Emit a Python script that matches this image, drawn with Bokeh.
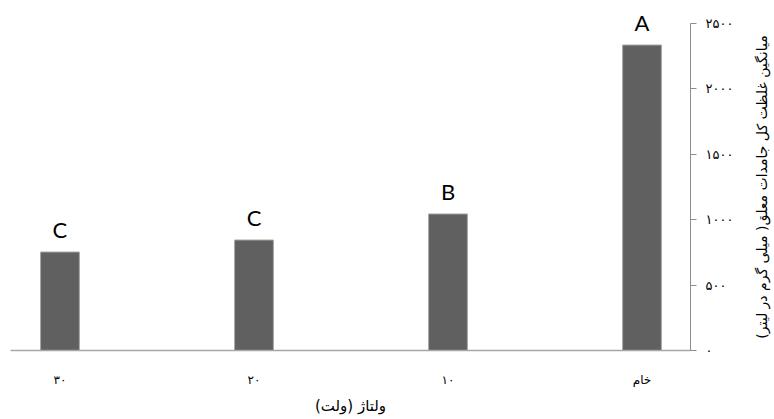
import math
from bokeh.plotting import figure
from bokeh.layouts import row
from bokeh.models import Range1d, FixedTicker, ColumnDataSource
from bokeh.embed import file_html
from bokeh.resources import INLINE
from bokeh.core.properties import value

categories = ["۳۰", "۲۰", "۱۰", "خام"]
tss_mean = [753, 845, 1044, 2336]
group_letters = ["C", "C", "B", "A"]
y_ticks = [0, 500, 1000, 1500, 2000, 2500]
y_tick_labels = ["۰", "۵۰۰", "۱۰۰۰", "۱۵۰۰", "۲۰۰۰", "۲۵۰۰"]
x_title = "ولتاژ (ولت)"
y_title = "میانگین غلظت کل جامدات معلق( میلی گرم در لیتر)"

positions = list(range(len(categories)))
src = ColumnDataSource(dict(x=positions, top=tss_mean, letter=group_letters))

y_range = Range1d(0, 2600)
p = figure(frame_width=680, frame_height=340, output_backend="svg", toolbar_location=None,
           x_range=Range1d(-0.255, 3.25), y_range=y_range,
           y_axis_location="right", min_border_left=10, min_border_top=10,
           min_border_bottom=69, min_border_right=52)
p.outline_line_color = None
p.grid.visible = False

p.vbar(x="x", top="top", width=0.2, source=src, fill_color="#606060",
       line_color="#a6a6a6", line_width=1)
p.text(x="x", y="top", text="letter", source=src, y_offset=-9,
       text_align="center", text_baseline="bottom",
       text_font=value("Lato"), text_font_size="22px", text_color="#000000")

xa = p.xaxis[0]
xa.ticker = FixedTicker(ticks=positions)
xa.major_label_overrides = {i: c for i, c in zip(positions, categories)}
xa.major_tick_line_color = None
xa.minor_tick_line_color = None
xa.axis_line_color = "#a6a6a6"
xa.axis_line_width = 1.5
xa.major_label_standoff = 16
xa.major_label_text_font = "DejaVu Sans"
xa.major_label_text_font_size = "12px"
xa.major_label_text_color = "#000000"
xa.axis_label = x_title
xa.axis_label_text_font = "DejaVu Sans"
xa.axis_label_text_font_size = "15px"
xa.axis_label_text_font_style = "normal"
xa.axis_label_text_color = "#000000"
xa.axis_label_standoff = 7

ya = p.yaxis[0]
ya.ticker = FixedTicker(ticks=y_ticks)
ya.major_label_overrides = {t: s for t, s in zip(y_ticks, y_tick_labels)}
ya.bounds = (0, 2500)
ya.major_tick_in = 0
ya.major_tick_out = 6
ya.minor_tick_line_color = None
ya.axis_line_color = "#8c8c8c"
ya.major_tick_line_color = "#8c8c8c"
ya.major_label_standoff = 9
ya.major_label_text_font = "DejaVu Sans"
ya.major_label_text_font_size = "13px"
ya.major_label_text_color = "#000000"

# narrow side panel holding the y-axis title, reading bottom-to-top
side = figure(frame_width=32, frame_height=340, output_backend="svg", toolbar_location=None,
              x_range=Range1d(0, 1), y_range=y_range,
              x_axis_location=None, y_axis_location=None,
              min_border_left=0, min_border_right=0, min_border_top=10,
              min_border_bottom=69)
side.outline_line_color = None
side.grid.visible = False
side.text(x=[0.62], y=[1250], text=[y_title], angle=math.pi / 2,
          text_align="center", text_baseline="middle",
          text_font=value("DejaVu Sans"), text_font_size="14px",
          text_color="#000000")

layout = row(p, side)
open("out.html", "w").write(file_html(layout, INLINE))
